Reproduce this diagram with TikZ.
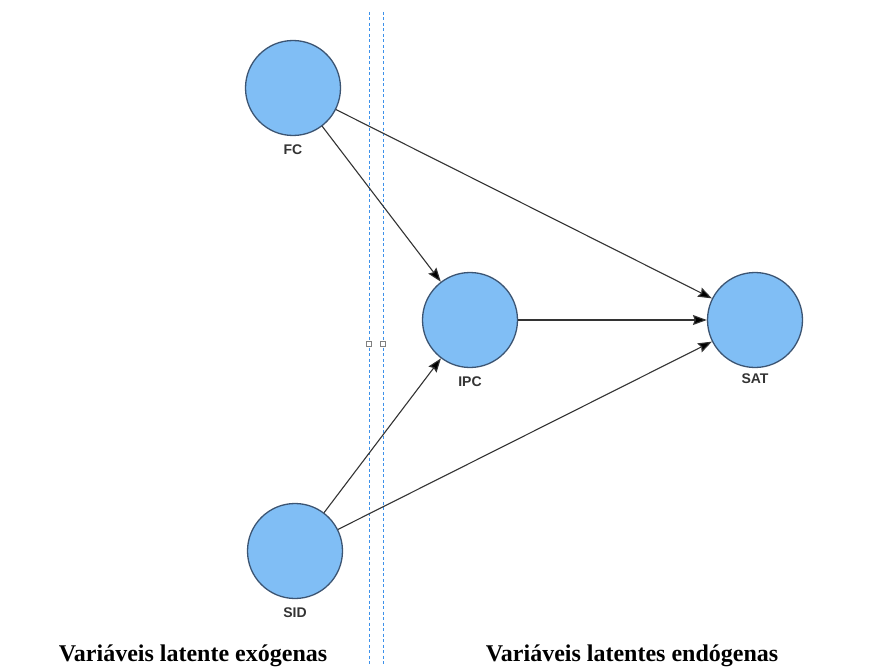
\documentclass[tikz,border=0pt]{standalone}
\usepackage{fontspec}
\setmainfont{Liberation Serif}
\setsansfont{Liberation Sans}
\usetikzlibrary{arrows.meta}
\definecolor{latentfill}{RGB}{128,190,245}
\definecolor{latentdraw}{RGB}{60,85,115}
\definecolor{guideblue}{RGB}{60,145,235}

\begin{document}
\begin{tikzpicture}[x=1pt,y=-1pt,
  thick,latent node/.style={circle,draw=latentdraw,fill=latentfill,line width=1.3pt,minimum size=95pt,inner sep=0pt},
  name label/.style={font=\sffamily\bfseries\fontsize{14}{16}\selectfont,text=black!80},
  group text/.style={font=\rmfamily\bfseries\fontsize{24}{28}\selectfont,anchor=base},
  handle node/.style={draw=black!50,fill=white,line width=0.5pt,minimum size=5pt,inner sep=0pt}]

  \useasboundingbox (0,0) rectangle (869,666);

  % divider between the two groups
  \draw[guideblue,line width=1pt,dash pattern=on 3pt off 2.5pt] (369,12) -- (369,666);
  \draw[guideblue,line width=1pt,dash pattern=on 3pt off 2.5pt] (383,12) -- (383,666);
  \node[handle node] (h1) at (369,344) {};
  \node[handle node] (h2) at (383,344) {};

  \node[latent node,label={[name label,label distance=5pt]below:FC}] (FC) at (293,88) {};
  \node[latent node,label={[name label,label distance=5pt]below:IPC}] (IPC) at (470,320) {};
  \node[latent node,label={[name label,label distance=2pt]below:SAT}] (SAT) at (755,320) {};
  \node[latent node,label={[name label,label distance=5pt]below:SID}] (SID) at (295,551) {};

  \path[black!80,line width=1.1pt,-{Stealth[length=14pt,width=10pt,inset=2pt,fill=black]}]
   (FC) edge (IPC)
   (FC) edge (SAT)
   (IPC) edge (SAT)
   (SID) edge (IPC)
   (SID) edge (SAT);

  \node[group text] (exo) at (193,661) {Variáveis latente exógenas};
  \node[group text] (endo) at (632,661) {Variáveis latentes endógenas};
\end{tikzpicture}
\end{document}
